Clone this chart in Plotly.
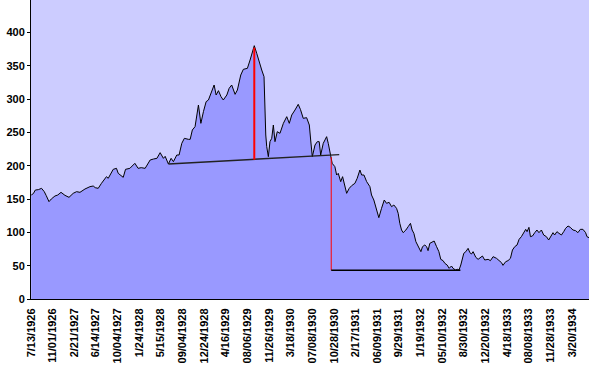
import plotly.graph_objects as go

# week offsets from 7/13/1926 and index values
weeks = [0.2, 1.7, 3.2, 5.4, 7.8, 9.8, 11.3, 13.3, 15.0, 17.7, 19.8, 22.2, 25.1, 28.1,
         31.2, 33.7, 36.2, 39.9, 43.6, 46.0, 47.5, 49.7, 52.1, 55.8, 57.1, 60.8, 63.2,
         64.5, 68.2, 69.9, 73.1, 76.8, 79.2, 81.5, 84.4, 88.1, 90.6, 93.1, 95.5, 97.9,
         99.2, 101.6, 103.6, 105.3, 107.8, 109.5, 111.5, 113.4, 116.4, 117.7, 119.3,
         121.3, 123.8, 125.6, 127.5, 129.5, 131.2, 133.2, 135.4, 136.9, 138.6, 140.5,
         142.2, 144.8, 146.5, 148.4, 150.9, 152.6, 155.1, 157.0, 160.0, 162.0, 163.7,
         165.1, 166.9, 168.8, 170.6, 172.3, 173.0, 173.6, 174.3, 175.5, 176.7, 178.0,
         179.2, 180.4, 182.1, 184.1, 186.6, 189.1, 191.0, 192.8, 195.2, 197.6, 199.3,
         201.3, 203.8, 205.8, 206.8, 208.0, 210.0, 211.7, 213.1, 214.2, 216.1, 218.6,
         219.8, 221.6, 222.7, 224.7, 226.0, 227.2, 229.0, 230.4, 232.1, 233.4, 235.3,
         237.1, 239.5, 241.2, 243.2, 244.5, 246.2, 248.2, 250.6, 251.8, 253.5, 255.5,
         257.2, 259.2, 261.2, 262.9, 264.8, 266.6, 268.3, 270.3, 271.5, 272.7, 274.0,
         275.2, 277.2, 278.9, 280.6, 281.8, 283.1, 284.6, 286.3, 288.3, 289.5, 291.2,
         292.5, 293.6, 294.9, 296.6, 298.1, 299.9, 301.6, 303.0, 304.7, 306.0, 307.7,
         309.2, 310.9, 312.1, 313.9, 315.4, 316.5, 317.8, 319.1, 320.0, 321.5, 323.2,
         324.5, 325.7, 326.9, 328.9, 330.6, 332.3, 333.8, 335.5, 338.0, 339.7, 341.7,
         344.2, 346.1, 347.9, 349.0, 351.0, 352.7, 354.5, 356.0, 357.7, 359.4, 360.9,
         362.6, 364.3, 365.8, 366.8, 368.2, 369.3, 370.8, 372.5, 374.1, 375.6, 377.4,
         379.1, 381.1, 382.8, 384.3, 386.0, 387.2, 388.9, 390.4, 392.2, 393.9, 395.3,
         397.1, 398.8, 400.7, 402.7, 404.4, 406.2, 408.1, 410.1, 411.1, 412.6]

dow = [156, 158, 163.5, 164, 166, 161, 155, 146, 150, 154.5, 156, 160, 155.5, 152.5,
       158.5, 161, 160, 165, 168.5, 169.5, 167, 166, 173.5, 183.5, 181, 194.5, 196,
       188.5, 182.5, 194.5, 196, 203.5, 196, 197, 196, 208.5, 210, 211, 219.5, 211,
       214, 202.5, 211, 206, 216, 216, 233.5, 241, 239.5, 239.5, 253.5,
       258.5, 291, 263.5, 281, 296, 298.5, 308.5, 321, 306, 312.5, 303.5,
       298.5, 306, 316, 321, 307, 313.5, 336, 344.5, 346, 358.5, 368.5,
       380, 368.5, 353.5, 343.5, 333.5, 276, 246, 228.5, 213.5, 236, 241,
       261, 236, 251, 248.5, 263.5, 273.5, 263.5, 276, 283.5, 292, 284,
       271, 272, 261, 238.5, 213.5, 231, 236, 236, 216, 233.5, 243.5,
       233.5, 216, 203.5, 198.5, 186, 188.5, 176, 183.5, 168.5, 158.5, 166,
       170, 173.5, 181, 193.5, 186, 186, 176, 168.5, 156, 148.5, 136,
       122, 136, 148.5, 143.5, 145, 138.5, 141, 136, 128.5, 113.5, 103.5,
       99.5, 103.5, 108.5, 113.5, 103.5, 98.5, 86, 78.5, 71, 78.5, 81,
       78.5, 72.5, 83.5, 86, 87, 78.5, 71, 59.5, 57.5, 53.5, 51,
       46, 49.5, 46, 43.5, 44.5, 43.5, 51, 61, 68.5, 71, 76,
       69.5, 67.5, 71, 62.5, 59.5, 62.5, 64.5, 58.5, 59.5, 57.5, 63.5,
       61, 57.5, 54.5, 50.5, 56, 57.5, 61, 73.5, 78.5, 81, 89.5,
       93.5, 99.5, 104.5, 101, 107.5, 93.5, 94.5, 99.5, 103.5, 99.5, 103.5,
       96, 93.5, 88.5, 93.5, 99.5, 96, 101, 98.5, 96, 101, 106,
       109.5, 107.5, 103.5, 102.5, 99.5, 104.5, 104.5, 99.5, 93.5, 92]

tick_weeks = list(range(0, 401, 16))
tick_labels = ["7/13/1926", "11/01/1926", "2/21/1927", "6/14/1927", "10/04/1927",
               "1/24/1928", "5/15/1928", "09/04/1928", "12/24/1928", "4/16/1929",
               "08/06/1929", "11/26/1929", "3/18/1930", "07/08/1930", "10/28/1930",
               "2/17/1931", "06/09/1931", "9/29/1931", "1/19/1932", "05/10/1932",
               "8/30/1932", "12/20/1932", "4/18/1933", "08/08/1933", "11/28/1933",
               "3/20/1934"]
y_ticks = [0, 50, 100, 150, 200, 250, 300, 350, 400]

# annotation lines (weeks / values)
neck_weeks = [101.6, 227.9]
neck_vals = [202.5, 216.5]
peak_week = [165.1, 165.1]
peak_vals = [209, 377]
drop_week = [222, 222]
drop_vals = [213, 43]
target_weeks = [222, 317.5]
target_vals = [43, 43]

fig = go.Figure()
fig.add_trace(go.Scatter(x=weeks, y=dow, mode="lines", fill="tozeroy",
                         fillcolor="#9999FF", line=dict(color="black", width=1)))
fig.add_trace(go.Scatter(x=neck_weeks, y=neck_vals, mode="lines",
                         line=dict(color="#222222", width=1.4)))
fig.add_trace(go.Scatter(x=peak_week, y=peak_vals, mode="lines",
                         line=dict(color="#FF0000", width=2)))
fig.add_trace(go.Scatter(x=drop_week, y=drop_vals, mode="lines",
                         line=dict(color="#FF0000", width=1)))
fig.add_trace(go.Scatter(x=target_weeks, y=target_vals, mode="lines",
                         line=dict(color="black", width=1.5)))

tfont = dict(family="Liberation Sans, Arial, sans-serif", size=11, color="black")
fig.update_layout(
    width=591, height=367,
    margin=dict(l=31, r=2, t=0, b=68, autoexpand=False),
    paper_bgcolor="white", plot_bgcolor="#CCCCFF",
    showlegend=False,
    font=tfont,
)
fig.update_xaxes(range=[0, 412.6], tickvals=tick_weeks,
                 ticktext=["<b>%s</b>" % t for t in tick_labels],
                 tickangle=-90, showgrid=False, zeroline=False,
                 showline=True, linecolor="black", linewidth=1,
                 ticks="", ticklabelstandoff=4, tickfont=tfont)
fig.update_yaxes(range=[0, 448.5], tickvals=y_ticks,
                 ticktext=["<b>%d</b>" % v for v in y_ticks],
                 showgrid=False, zeroline=False,
                 showline=True, linecolor="black", linewidth=1,
                 ticks="outside", ticklen=3, tickcolor="black", tickfont=tfont)

fig.write_html("out.html", config={"displayModeBar": False},
               post_script="document.body.style.margin='0';document.body.style.overflow='hidden';")
